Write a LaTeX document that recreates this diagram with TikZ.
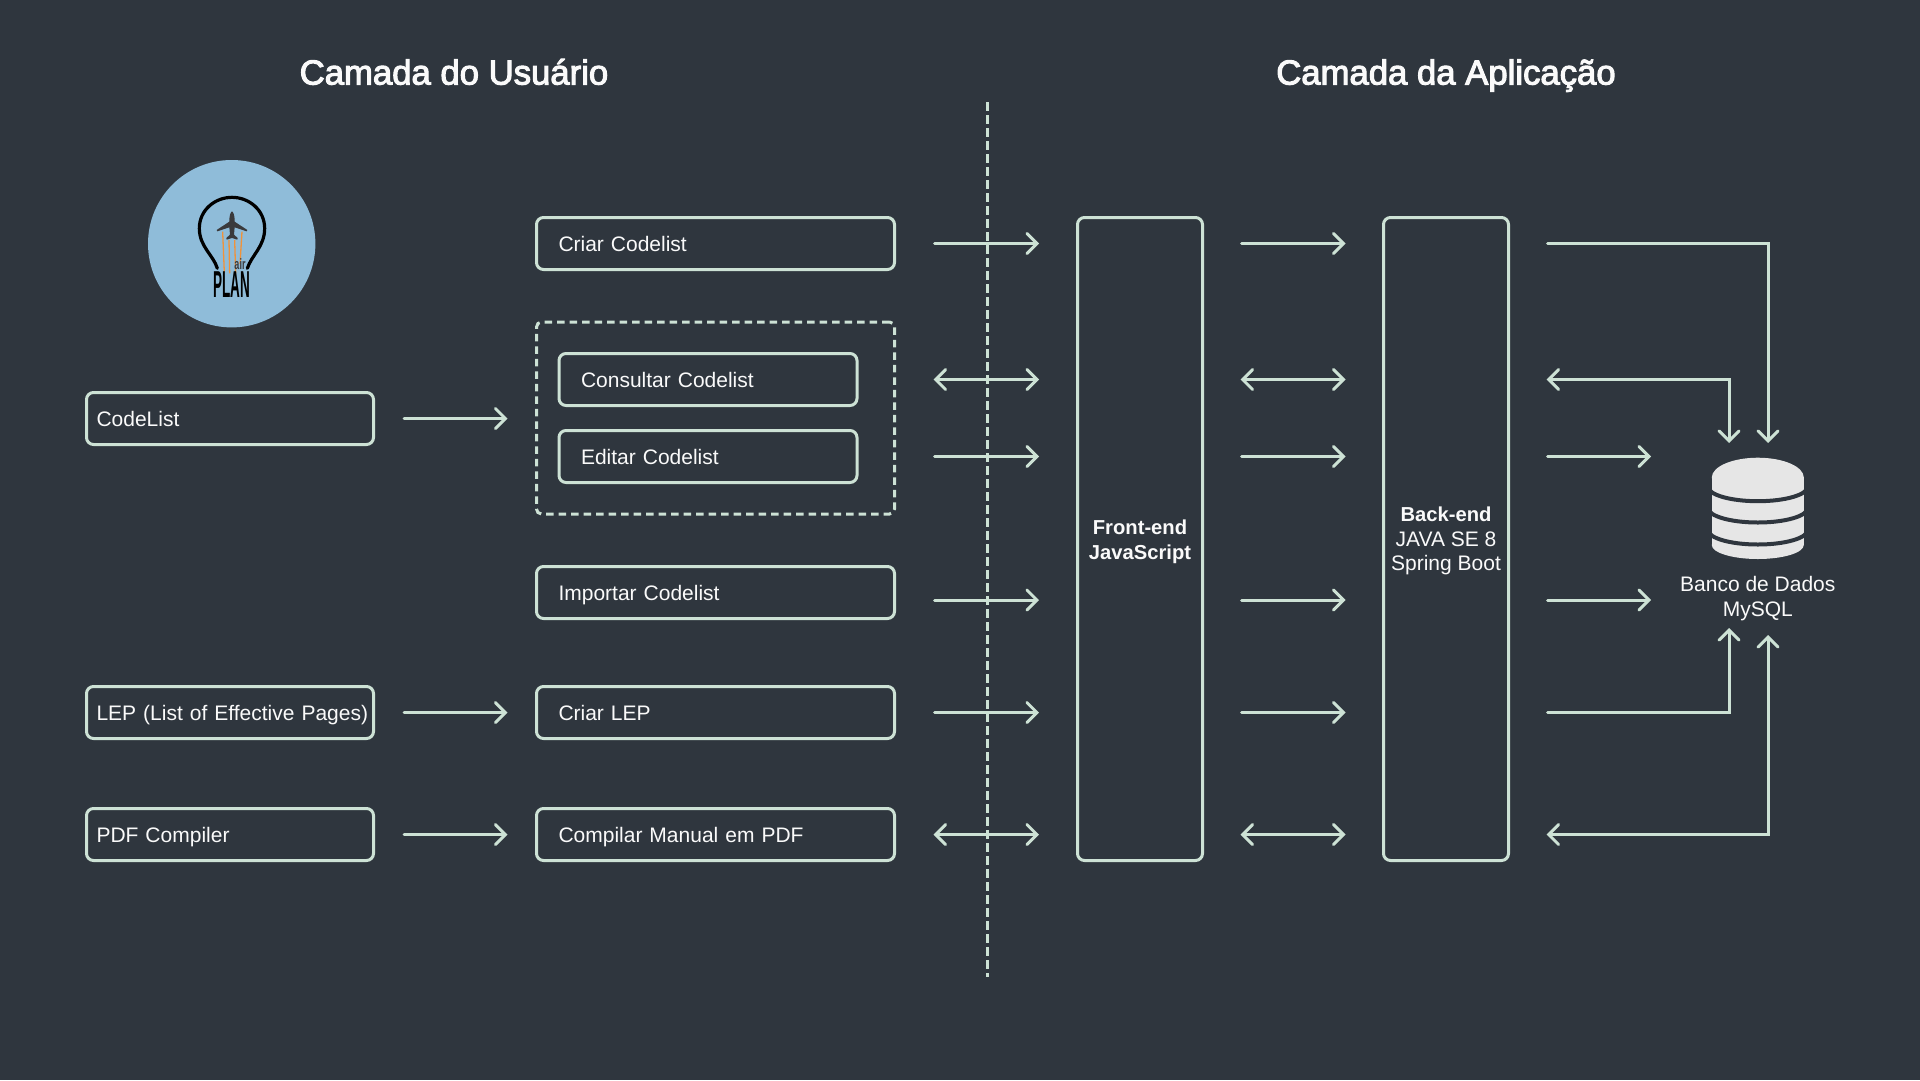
\documentclass[tikz,border=0pt]{standalone}
\usepackage{fontspec}
\usepackage{graphicx}
\usetikzlibrary{arrows.meta,calc}
\setmainfont{Liberation Sans}
\newfontfamily\medfont[FakeBold=3]{Liberation Sans}
\definecolor{bgc}{RGB}{47,54,62}
\definecolor{linec}{RGB}{205,226,213}
\definecolor{txtc}{RGB}{250,250,250}
\definecolor{logoc}{RGB}{143,188,217}
\definecolor{dbc}{RGB}{230,230,230}
\definecolor{planec}{RGB}{58,58,60}
\definecolor{streakc}{RGB}{240,146,58}
\newcommand{\btxt}[1]{{\fontsize{20.2}{24.5}\selectfont\bfseries #1}}
\tikzset{
  boxbase/.style={draw=linec,line width=3pt,rounded corners=7pt,outer sep=0pt,text=txtc,
    font=\fontsize{21}{24.5}\selectfont},
  itembox/.style={boxbase,minimum height=52pt,inner xsep=22pt,inner ysep=0pt,align=left,text height=15.5pt,text depth=0pt},
  inputbox/.style={itembox,inner xsep=10pt,minimum width=287pt,text width=267pt},
  widebox/.style={itembox,minimum width=358pt,text width=314pt},
  innerbox/.style={itembox,minimum width=298pt,text width=254pt},
  tallbox/.style={boxbase,minimum width=125pt,minimum height=643pt,align=center,inner sep=0pt},
  groupbox/.style={draw=linec,line width=3pt,rounded corners=5pt,dash pattern=on 7.5pt off 5pt,minimum width=358pt,minimum height=192pt,outer sep=0pt},
  heading/.style={text=txtc,anchor=base,font=\fontsize{34.7}{40}\medfont},
  dblabel/.style={text=txtc,align=center,font=\fontsize{21}{24.5}\selectfont},
  flow/.style={draw=linec,line width=3pt,line cap=round,-{Straight Barb[length=10pt,width=20pt,line cap=round]}},
  biflow/.style={flow,{Straight Barb[length=10pt,width=20pt,line cap=round]}-{Straight Barb[length=10pt,width=20pt,line cap=round]}},
  divider/.style={draw=linec,line width=3pt,dash pattern=on 9pt off 4pt},
}
\begin{document}
\begin{tikzpicture}[x=1pt,y=-1pt]
\useasboundingbox (0,0) rectangle (1920,1080);
\fill[bgc] (0,0) rectangle (1920,1080);

% headings
\node[heading] (h1) at (454,84.5) {Camada do Usuário};
\node[heading] (h2) at (1446,84.5) {Camada da Aplicação};

% logo
\fill[logoc] (231.7,243.7) circle[radius=83.7];
\begin{scope}[shift={(130,140)},xscale=1/3,yscale=1/3]
  \draw[black,line width=3.2pt,line cap=round]
    (262,385) .. controls (250,345) and (208,320) .. (208,265)
    .. controls (208,210) and (255,172) .. (306,172)
    .. controls (357,172) and (404,210) .. (404,265)
    .. controls (404,320) and (365,345) .. (352,385);
  \foreach \xa/\ya/\xb/\yb in {278/275/283/398,297/300/299/400,314/300/317/400,336/275/330/372}
    \draw[streakc,line width=1.3pt] (\xa,\ya) -- (\xb,\yb);
  \fill[planec] (306,214) .. controls (312,218) and (314,230) .. (314,245)
    -- (352,270) -- (350,274) -- (314,262) -- (312,284) -- (323,294) -- (322,299)
    -- (306,294) -- (290,299) -- (289,294) -- (300,284) -- (298,262) -- (262,274) -- (260,270)
    -- (298,245) .. controls (298,230) and (300,218) .. (306,214) -- cycle;
  \node[text=planec,inner sep=0pt,anchor=base,font=\fontsize{15}{15}\selectfont\bfseries] (airtxt) at (330,388) {\scalebox{.6}[1]{air}};
  \node[text=black,inner sep=0pt,anchor=base,font=\fontsize{37.5}{38}\selectfont\bfseries] (plantxt) at (306,473) {\scalebox{.36}[1]{PLAN}};
\end{scope}

% user layer boxes
\node[inputbox] (codelist) at (230,418.5) {CodeList};
\node[inputbox] (lep) at (230,712.5) {\mbox{LEP (List of Effective Pages)}};
\node[inputbox] (pdf) at (230,834.5) {PDF Compiler};

\node[widebox] (criar) at (715.5,243.5) {Criar Codelist};
\node[groupbox] (group) at (715.5,418) {};
\node[innerbox] (consultar) at (708,379.5) {Consultar Codelist};
\node[innerbox] (editar) at (708,456.5) {Editar Codelist};
\node[widebox] (importar) at (715.5,592.5) {Importar Codelist};
\node[widebox] (criarlep) at (715.5,712.5) {Criar LEP};
\node[widebox] (compilar) at (715.5,834.5) {Compilar Manual em PDF};

% application layer boxes
\node[tallbox] (front) at (1140,539) {\rule{0pt}{20pt}\btxt{Front-end}\\\btxt{JavaScript}};
\node[tallbox] (back) at (1446,539) {\rule{0pt}{19pt}\btxt{Back-end}\\JAVA SE 8\\Spring Boot};

% free ends
\coordinate (divtop) at (987,102);
\coordinate (divbot) at (987,977);
\coordinate (dbleft) at (1651,508);
\coordinate (inA) at (1729,443);
\coordinate (inB) at (1768,443);
\coordinate (upA) at (1729,628);
\coordinate (upB) at (1768,635);
\coordinate (impy) at (0,600);

% divider
\draw[divider] (divtop) -- (divbot);

% left arrows
\draw[flow,shorten <=30.5pt,shorten >=29pt] (codelist.east) -- (codelist.east -| group.west);
\draw[flow,shorten <=30.5pt,shorten >=29pt] (lep.east) -- (criarlep.west);
\draw[flow,shorten <=30.5pt,shorten >=29pt] (pdf.east) -- (compilar.west);

% user -> front
\draw[flow,shorten <=40pt,shorten >=38.5pt] (criar.east) -- (criar.east -| front.west);
\draw[biflow,shorten <=39pt,shorten >=38.5pt] (consultar.east -| group.east) -- (consultar.east -| front.west);
\draw[flow,shorten <=40pt,shorten >=38.5pt] (editar.east -| group.east) -- (editar.east -| front.west);
\draw[flow,shorten <=40pt,shorten >=38.5pt] (importar.east |- impy) -- (front.west |- impy);
\draw[flow,shorten <=40pt,shorten >=38.5pt] (criarlep.east) -- (criarlep.east -| front.west);
\draw[biflow,shorten <=39pt,shorten >=38.5pt] (compilar.east) -- (compilar.east -| front.west);

% front -> back
\foreach \n in {criar,editar,criarlep}
  \draw[flow,shorten <=39pt,shorten >=38pt] (front.east |- \n.east) -- (back.west |- \n.east);
\draw[flow,shorten <=39pt,shorten >=38pt] (front.east |- impy) -- (back.west |- impy);
\foreach \n in {consultar,compilar}
  \draw[biflow,shorten <=38pt,shorten >=38pt] (front.east |- \n.east) -- (back.west |- \n.east);

% back -> database
\draw[flow,shorten <=39pt] (back.east |- criar.east) -| (inB);
\draw[biflow,shorten <=38pt] (back.east |- consultar.east) -| (inA);
\draw[flow,shorten <=39pt] (back.east |- editar.east) -- (dbleft |- editar.east);
\draw[flow,shorten <=39pt] (back.east |- impy) -- (dbleft |- impy);
\draw[flow,shorten <=39pt] (back.east |- criarlep.east) -| (upA);
\draw[biflow,shorten <=38pt] (back.east |- compilar.east) -| (upB);

% database icon
\fill[dbc] (1757.8,477.5) ellipse[x radius=46,y radius=19.8];
\fill[dbc] (1757.8,545) ellipse[x radius=46,y radius=14];
\fill[dbc] (1711.8,477.5) rectangle (1803.8,545);
\foreach \yy in {486.7,508,530}
  \draw[bgc,line width=4pt] (1708,\yy) arc[x radius=49.8,y radius=14.5,start angle=180,end angle=0];
\node[dblabel] (dblabeltxt) at (1757.8,598.5) {Banco de Dados\\MySQL};
\end{tikzpicture}
\end{document}
